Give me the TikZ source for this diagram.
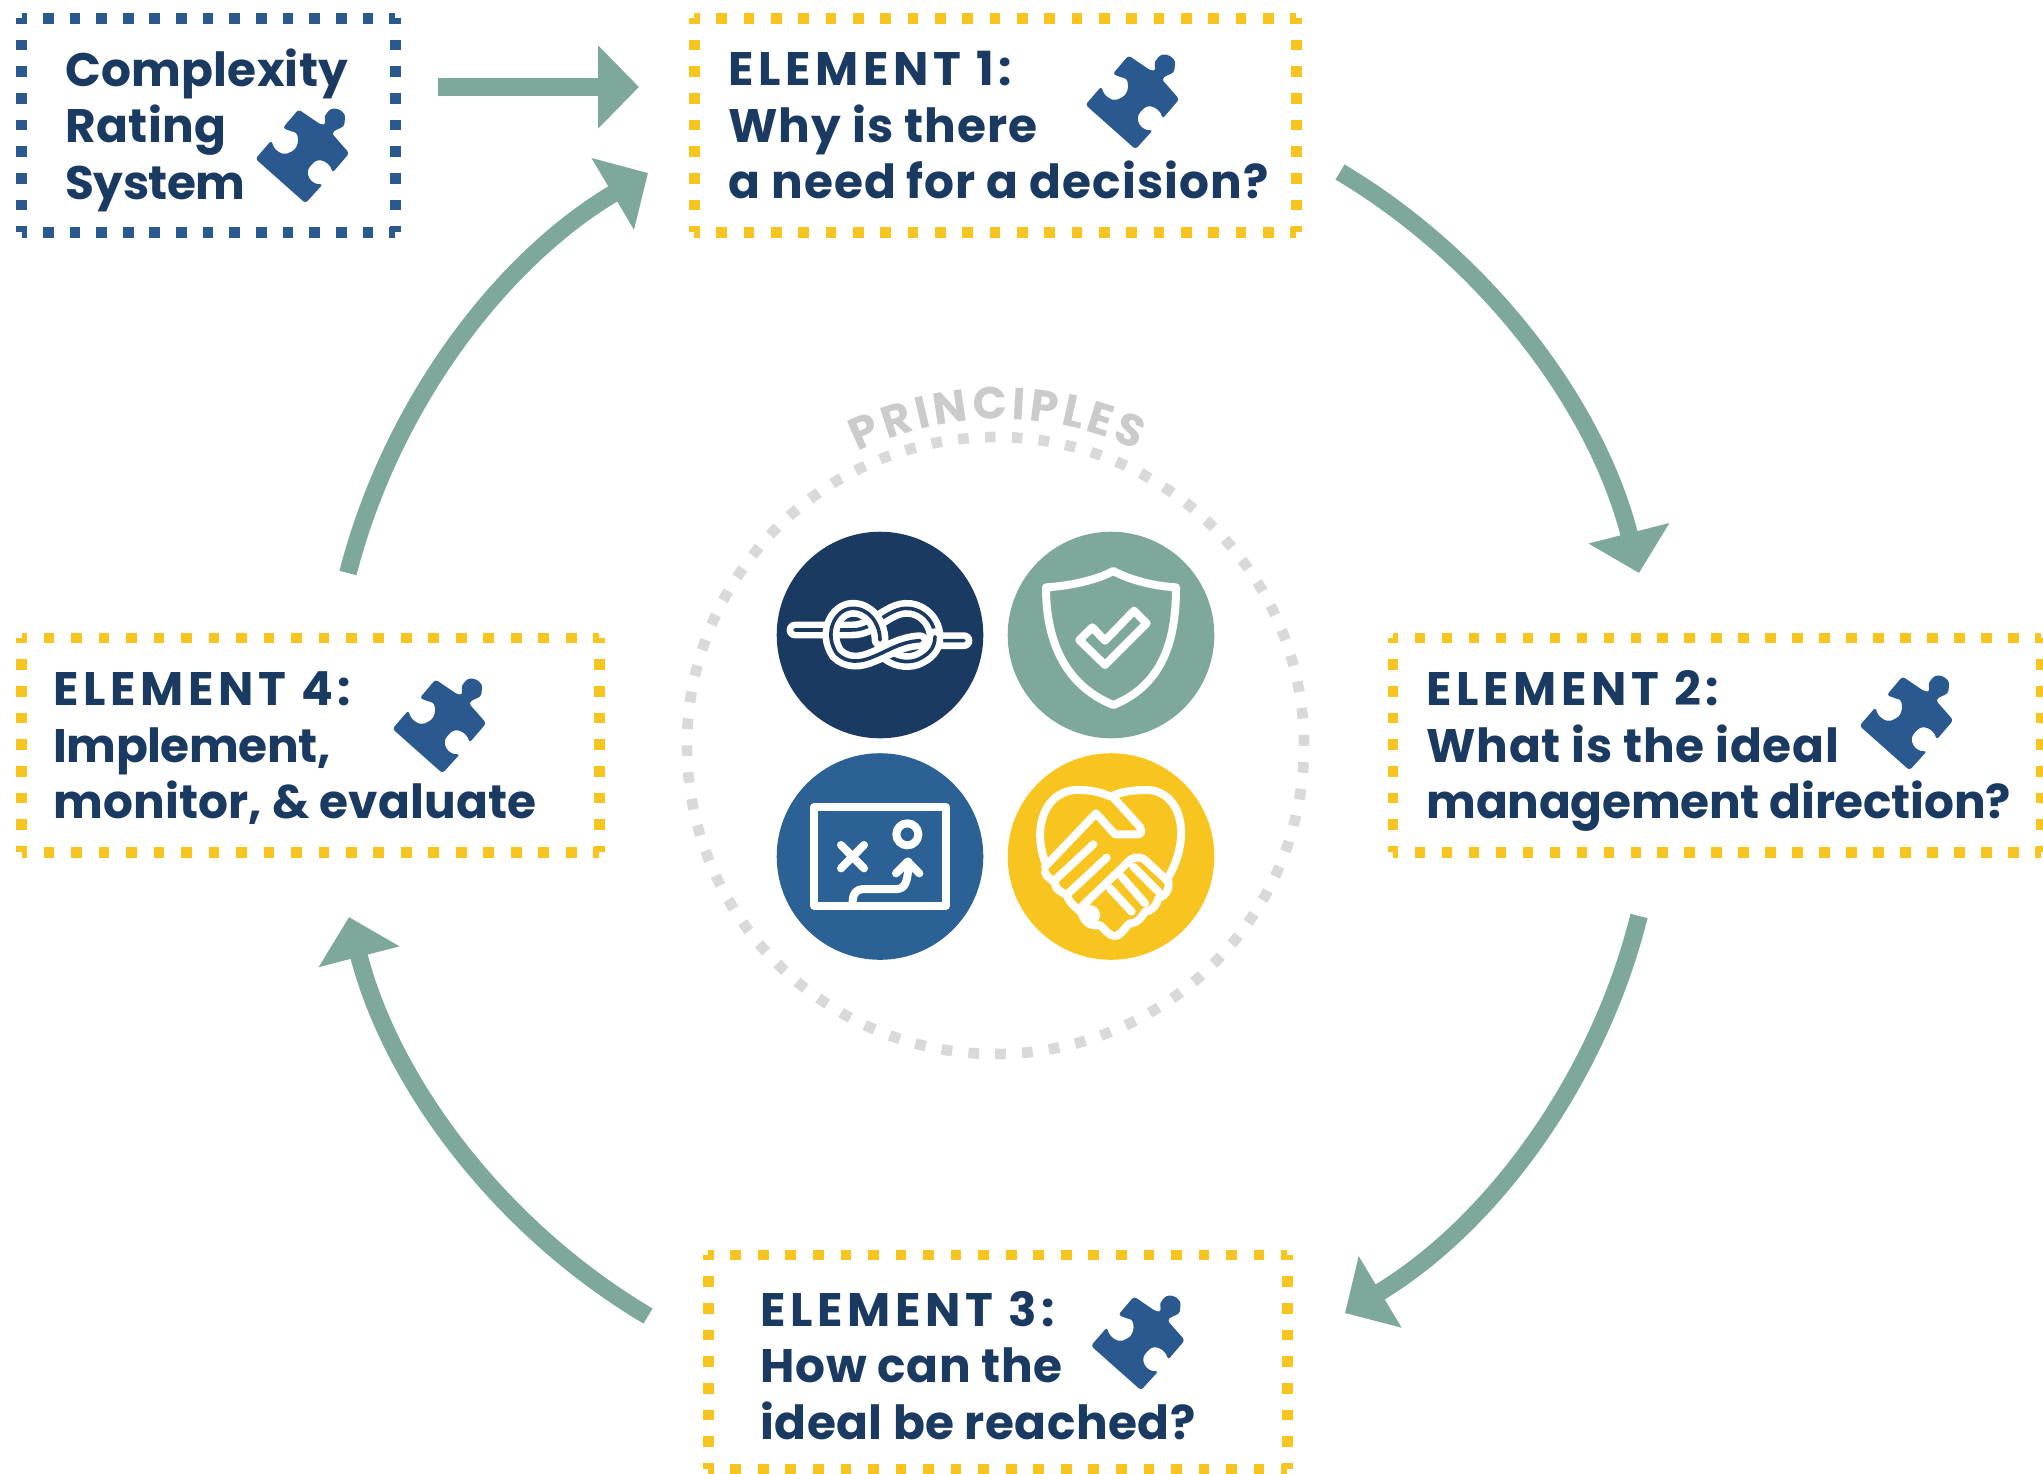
\documentclass[tikz,border=0pt]{standalone}
\usepackage{fontspec}
\setmainfont{Poppins}
\usetikzlibrary{arrows.meta,decorations.text}

\definecolor{navy}{HTML}{1A3A61}
\definecolor{sage}{HTML}{7FA89C}
\definecolor{midblue}{HTML}{2C6196}
\definecolor{puzzleblue}{HTML}{2A5990}
\definecolor{gold}{HTML}{F8C41F}
\definecolor{ringgrey}{HTML}{D9D9D9}
\definecolor{wordgrey}{HTML}{CBCBCB}

\tikzset{
    framebox/.style={inner sep=0pt,minimum height=106.65pt},
    boxtext/.style={anchor=base west,align=left,inner sep=0pt,text=navy,
        font=\fontsize{23.5}{28.25}\selectfont\bfseries},
    flowarrow/.style={draw=sage,line width=8.8pt,-{Triangle[length=20.5pt,width=40.5pt]}},
    iconcircle/.style={circle,inner sep=0pt,minimum size=103.3pt},
    iconline/.style={draw=white,line width=4pt,line cap=round,line join=round},
    puzzle/.pic={
        \fill[puzzleblue,rounded corners=1.5pt,shift={(-64.75,-80.5)},scale=0.35]
            (195,365) -- (52,238) -- (98,185)
            .. controls (105,215) and (130,228) .. (150,220)
            .. controls (178,205) and (178,165) .. (155,160) -- (130,150)
            -- (175,97) -- (238,140)
            .. controls (255,140) and (248,120) .. (255,108)
            .. controls (275,85) and (310,100) .. (307,130)
            .. controls (305,150) and (285,152) .. (270,165)
            -- (320,222) -- (272,278)
            .. controls (265,250) and (235,232) .. (212,255)
            .. controls (192,280) and (210,312) .. (245,310) -- cycle;
    }
}

%% Dotted frame: node, colour, gap of the long sides
\newcommand{\dotframe}[3]{
    \draw[#2,line width=5.35pt,dash pattern=on 5.35pt off #3pt,dash phase=2.675pt]
        (#1.north west) -- (#1.north east) (#1.south west) -- (#1.south east);
    \draw[#2,line width=5.35pt,dash pattern=on 5.35pt off 7.98pt,dash phase=2.675pt]
        (#1.north west) -- (#1.south west) (#1.north east) -- (#1.south east);
}
%% Tracking for one line
\newcommand{\spaced}[2]{{\addfontfeature{LetterSpace=#1}#2}}

\begin{document}
\begin{tikzpicture}[x=0.5pt,y=-0.5pt]
    \useasboundingbox (0,0) rectangle (2043,1473);

    %% Boxes
    \node[framebox,minimum width=186.5pt] (rating) at (208.5,125.35) {};
    \node[framebox,minimum width=300.65pt] (one) at (995.35,125.35) {};
    \node[framebox,minimum width=323.65pt] (two) at (1717.15,745.15) {};
    \node[framebox,minimum width=289.2pt] (three) at (997.8,1362) {};
    \node[framebox,minimum width=288.5pt] (four) at (310.5,745.15) {};
    \dotframe{rating}{puzzleblue}{7.97}
    \dotframe{one}{gold}{8.32}
    \dotframe{two}{gold}{8.135}
    \dotframe{three}{gold}{8.42}
    \dotframe{four}{gold}{8.39}

    %% Labels
    \node[boxtext] (ratingtext) at (65,199) {\spaced{0.5}{Complexity}\\\spaced{1}{Rating}\\\spaced{-1}{System}};
    \node[boxtext] (onetext) at (728,198.5) {\spaced{10}{ELEMENT 1:}\\\spaced{2.3}{Why is there}\\\spaced{2.2}{a need for a decision?}};
    \node[boxtext] (twotext) at (1426,818.5) {\spaced{10}{ELEMENT 2:}\\\spaced{1.7}{What is the ideal}\\\spaced{-0.5}{management direction?}};
    \node[boxtext] (threetext) at (760,1439) {\spaced{10}{ELEMENT 3:}\\\spaced{1.5}{How can the}\\\spaced{1}{ideal be reached?}};
    \node[boxtext] (fourtext) at (53,818.5) {\spaced{10}{ELEMENT 4:}\\\spaced{-1}{Implement,}\\\spaced{0.25}{monitor, \& evaluate}};

    %% Puzzle pieces
    \pic at (302,156) {puzzle};
    \pic at (1132,102) {puzzle};
    \pic at (1906,723) {puzzle};
    \pic at (1137.5,1343) {puzzle};
    \pic at (439,726) {puzzle};

    %% Arrows
    \coordinate (ratingout) at (438,87);
    \coordinate (onein) at (639,87);
    \coordinate (oneout) at (1340,172);
    \coordinate (twoin) at (1639,573);
    \coordinate (twoout) at (1639,916);
    \coordinate (threein) at (1345,1313);
    \coordinate (threeout) at (648,1316);
    \coordinate (fourin) at (349,917);
    \coordinate (fourout) at (348,573);
    \coordinate (onefoot) at (648,173);
    \draw[flowarrow] (ratingout) -- (onein);
    \draw[flowarrow] (oneout) to[bend left=22.5,looseness=0.88] (twoin);
    \draw[flowarrow] (twoout) to[bend left=22.5,looseness=0.88] (threein);
    \draw[flowarrow] (threeout) to[bend left=22.5,looseness=0.88] (fourin);
    \draw[flowarrow] (fourout) to[bend left=22.5,looseness=0.88] (onefoot);

    %% Principles
    \node[circle,draw=ringgrey,line width=5.35pt,inner sep=0pt,minimum size=308.5pt,
        dash pattern=on 5.35pt off 8.11pt] (ring) at (995.5,745.5) {};
    \coordinate (wordleft) at (858,452);
    \coordinate (wordright) at (1137,450);
    \path[decorate,decoration={text along path,text align={fit to path},
        text={|\fontsize{22.5}{24}\selectfont\bfseries\color{wordgrey}|PRINCIPLES}}]
        (wordleft) to[bend left=25.5,looseness=0.9] (wordright);

    \node[iconcircle,fill=navy] (knot) at (880,635) {};
    \node[iconcircle,fill=sage] (shield) at (1111,635) {};
    \node[iconcircle,fill=midblue] (plan) at (880,856.5) {};
    \node[iconcircle,fill=gold] (hands) at (1111,856.5) {};

    %% Knot
    \begin{scope}[shift={(760,520)},scale=1/3]
        \tikzset{rope/.style={draw=white,line width=3.3pt,double=navy,double distance=1.8pt,line cap=round}}
        \draw[rope] (612,362) -- (525,362) .. controls (530,300) and (480,262) .. (435,265)
            .. controls (400,268) and (375,290) .. (340,310) .. controls (310,328) and (290,330) .. (270,330) -- (105,330);
        \draw[rope] (372,395) .. controls (400,425) and (440,430) .. (470,420)
            .. controls (505,405) and (525,385) .. (525,350);
        \draw[rope] (480,362) .. controls (420,365) and (380,395) .. (340,410)
            .. controls (300,428) and (260,430) .. (230,400)
            .. controls (190,340) and (225,268) .. (275,265)
            .. controls (325,262) and (360,310) .. (360,360);
    \end{scope}

    %% Shield
    \begin{scope}[shift={(990,520)},scale=1/3]
        \draw[iconline] (370,153) .. controls (420,180) and (490,198) .. (558,202)
            .. controls (558,340) and (530,490) .. (370,555)
            .. controls (210,490) and (168,340) .. (168,202)
            .. controls (240,198) and (320,180) .. (370,153) -- cycle;
        \draw[iconline] (307,322) -- (345,362) -- (432,272) -- (470,310) -- (345,435) -- (268,360) -- cycle;
    \end{scope}

    %% Plan
    \begin{scope}[shift={(760,745)},scale=1/3]
        \draw[iconline] (162,187) rectangle (557,482);
        \draw[iconline] (442,268) circle [radius=33];
        \draw[iconline] (243,300) -- (312,370) (312,300) -- (243,370);
        \draw[iconline] (278,470) .. controls (278,445) and (290,432) .. (310,432) -- (410,432)
            .. controls (435,432) and (445,410) .. (445,350);
        \draw[iconline] (408,385) -- (443,350) -- (478,385);
    \end{scope}

    %% Hands
    \begin{scope}[shift={(990,745)},scale=1/3]
        \draw[iconline] (165,350) .. controls (125,240) and (170,130) .. (270,135)
            .. controls (310,135) and (340,145) .. (362,155)
            .. controls (390,140) and (430,135) .. (470,135)
            .. controls (570,135) and (610,270) .. (533,400);
        \draw[iconline] (165,365) -- (318,205) -- (375,268) -- (445,268)
            .. controls (458,268) and (455,250) .. (445,240) -- (372,160);
        \draw[iconline] (195,405) -- (310,298);
        \draw[iconline] (235,445) -- (350,338);
        \draw[iconline] (270,490) -- (405,360) .. controls (425,335) and (445,330) .. (465,345) -- (535,410);
        \draw[iconline] (165,380) .. controls (165,395) and (185,400) .. (195,415)
            .. controls (195,435) and (215,440) .. (230,450)
            .. controls (240,480) and (265,490) .. (275,505)
            .. controls (285,535) and (305,545) .. (330,540)
            .. controls (350,560) and (365,580) .. (385,570)
            .. controls (405,555) and (405,545) .. (420,535)
            .. controls (445,535) and (455,515) .. (465,500)
            .. controls (490,495) and (500,480) .. (505,460)
            .. controls (530,450) and (540,430) .. (535,410);
        \draw[iconline] (430,365) -- (505,440);
        \draw[iconline] (395,395) -- (465,475);
        \draw[iconline] (360,430) -- (425,500);
        \fill[white] (300,510) circle [radius=30];
    \end{scope}
\end{tikzpicture}
\end{document}
